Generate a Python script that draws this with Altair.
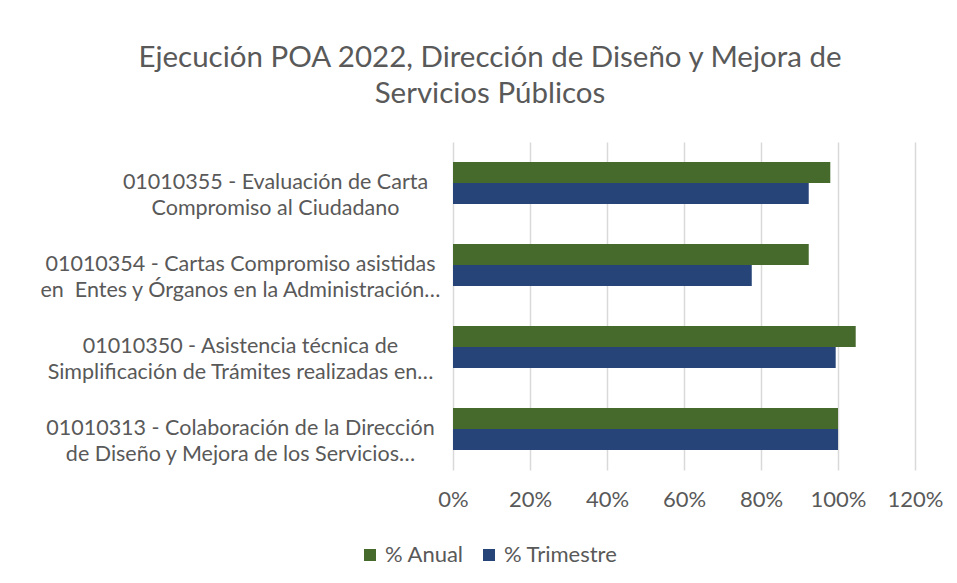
import altair as alt
import pandas as pd

categories = [
    "01010355 - Evaluación de Carta|Compromiso al Ciudadano",
    "01010354 - Cartas Compromiso asistidas|en \u00a0Entes y Órganos en la Administración…",
    "01010350 - Asistencia técnica de|Simplificación de Trámites realizadas en…",
    "01010313 - Colaboración de la Dirección|de Diseño y Mejora de los Servicios…",
]
series = ["% Anual", "% Trimestre"]
anual = [0.98, 0.924, 1.046, 1.00]
trimestre = [0.924, 0.776, 0.994, 1.00]
x_ticks = [0, 0.2, 0.4, 0.6, 0.8, 1.0, 1.2]
colors = ["#466A2C", "#264478"]

rows = []
for c, a, t in zip(categories, anual, trimestre):
    rows.append({"cat": c, "serie": series[0], "val": a})
    rows.append({"cat": c, "serie": series[1], "val": t})
df = pd.DataFrame(rows)

FONT = "Lato"
GRAY = "#595959"

chart = alt.Chart(df).mark_bar().encode(
    y=alt.Y("cat:N", sort=categories, title=None,
            scale=alt.Scale(paddingInner=0.49, paddingOuter=0.245),
            axis=alt.Axis(
                labelExpr="split(datum.value, '|')",
                labelAlign="center",
                labelPadding={"condition": {"test": "indexof(datum.value, '01010355') == 0", "value": 178}, "value": 213},
                labelFont=FONT, labelFontSize=21.5, labelColor=GRAY,
                labelLineHeight=26, labelLimit=0,
                domain=False, ticks=False, grid=False)),
    yOffset=alt.YOffset("serie:N", sort=series),
    x=alt.X("val:Q", title=None,
            scale=alt.Scale(domain=[0, 1.2], nice=False),
            axis=alt.Axis(values=x_ticks, format=".0%", labelFont=FONT,
                          labelFontSize=22, labelColor=GRAY, labelPadding=19,
                          labelFlush=False,
                          domain=False, ticks=False, grid=True,
                          gridColor="#D9D9D9", gridWidth=1.5)),
    color=alt.Color("serie:N", sort=series,
                    scale=alt.Scale(domain=series, range=colors),
                    legend=alt.Legend(title=None, orient="none", direction="horizontal",
                                      legendX=-94, legendY=402,
                                      symbolType="square", symbolSize=144,
                                      symbolStrokeWidth=0,
                                      labelFont=FONT, labelFontSize=22, labelColor=GRAY,
                                      columnPadding=14, labelOffset=4)),
).properties(
    width=462,
    height=328,
    title=alt.TitleParams(
        text=["Ejecución POA 2022, Dirección de Diseño y Mejora de", "Servicios Públicos"],
        font=FONT, fontSize=29.5, fontWeight="normal", color=GRAY,
        anchor="middle", dx=-194, offset=33, lineHeight=36),
    autosize=alt.AutoSizeParams(type="none"),
    padding={"left": 445, "top": 134, "right": 34, "bottom": 105},
).configure_view(stroke=None)

chart.save("out.html", embed_options={"renderer": "svg", "actions": False})
